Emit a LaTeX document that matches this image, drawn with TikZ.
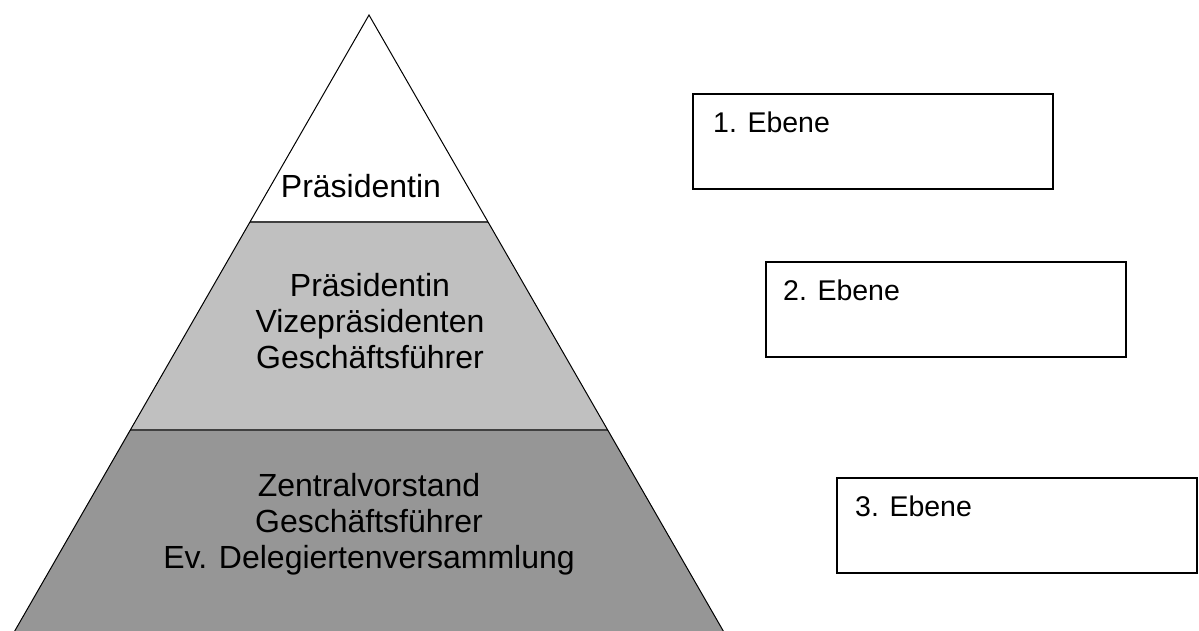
\documentclass[tikz,border=0pt]{standalone}
\usepackage{fontspec}
\setmainfont{Liberation Sans}
\definecolor{midgray}{HTML}{C0C0C0}
\definecolor{lowgray}{HTML}{969696}
\definecolor{divline}{HTML}{404040}
\begin{document}
\begin{tikzpicture}[x=1pt,y=-1pt,
  pyrtext/.style={font=\fontsize{32}{36}\selectfont, align=center, inner sep=0pt, anchor=base},
  boxtext/.style={font=\fontsize{28.5}{30}\selectfont, inner sep=0pt, anchor=base west},
  levelbox/.style={draw=black, line width=2pt, fill=white, minimum width=360pt, minimum height=95pt, inner sep=0pt},
  edge/.style={draw=black, line width=1pt},
  divider/.style={draw=divline, line width=2pt}]
\useasboundingbox (0,0) rectangle (1199,630);
% pyramid levels
\fill[white] (369,15) -- (250,222) -- (488,222) -- cycle;
\fill[midgray] (250,222) -- (130,430) -- (608,430) -- (488,222) -- cycle;
\fill[lowgray] (130,430) -- (13,634) -- (725,634) -- (608,430) -- cycle;
\coordinate (apex) at (369,15);
\coordinate (bl) at (13,634);
\coordinate (br) at (725,634);
\coordinate (d1l) at (250,222);
\coordinate (d1r) at (488,222);
\coordinate (d2l) at (130,430);
\coordinate (d2r) at (608,430);
\draw[divider] (d1l) -- (d1r);
\draw[divider] (d2l) -- (d2r);
\draw[edge] (bl) -- (apex) -- (br);
% pyramid texts (base = baseline of last line)
\node[pyrtext] (t1) at (361,197) {Präsidentin};
\node[pyrtext] (t2) at (370,368) {Präsidentin\\Vizepräsidenten\\Geschäftsführer};
\node[pyrtext] (t3) at (369,568) {Zentralvorstand\\Geschäftsführer\\Ev. Delegiertenversammlung};
% level boxes
\node[levelbox] (b1) at (873,141.5) {};
\node[levelbox] (b2) at (945.5,309.5) {};
\node[levelbox] (b3) at (1017,525.5) {};
\node[boxtext] (l1) at (713,132) {1. Ebene};
\node[boxtext] (l2) at (783,300) {2. Ebene};
\node[boxtext] (l3) at (855,516) {3. Ebene};
\end{tikzpicture}
\end{document}
